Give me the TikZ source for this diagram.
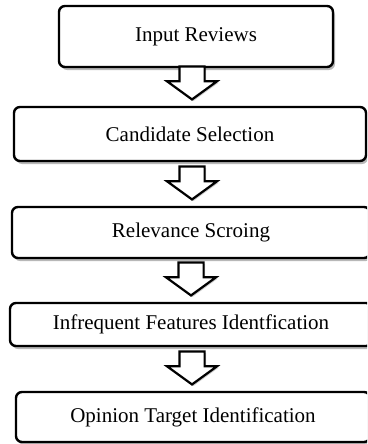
\documentclass[tikz,border=0pt]{standalone}
\usepackage{fontspec}
\setmainfont{Liberation Serif}
\usetikzlibrary{positioning,calc,shapes.arrows,shadows}
\tikzset{
  stepbox/.style={draw=black, line width=2.4pt, rounded corners=6pt, fill=white,
    inner sep=0pt, font=\fontsize{21}{25}\selectfont,
    drop shadow={shadow xshift=2pt, shadow yshift=-3pt, fill=black, opacity=0.28}},
  blockarr/.style={single arrow, draw=black, line width=2.2pt, fill=white,
    shape border rotate=270, inner xsep=11.5pt, inner ysep=0pt, minimum height=33pt,
    single arrow head extend=12.5pt, single arrow tip angle=108, anchor=tip,
    drop shadow={shadow xshift=1.5pt, shadow yshift=-1.5pt, fill=black, opacity=0.2}},
}
\begin{document}
\begin{tikzpicture}[x=1pt, y=-1pt]
\useasboundingbox (0,0) rectangle (367,444);
\clip (0,0) rectangle (367,444);
% process steps
\node[stepbox, minimum width=274pt, minimum height=61pt] (b1) at (196,36.5) {Input Reviews};
\node[stepbox, minimum width=352pt, minimum height=54pt] (b2) at (190,134) {Candidate Selection};
\node[stepbox, minimum width=358pt, minimum height=51pt] (b3) at (191,232.5) {Relevance Scroing};
\node[stepbox, minimum width=362pt, minimum height=43pt] (b4) at (191,324.5) {Infrequent Features Identfication};
\node[stepbox, minimum width=354pt, minimum height=50pt] (b5) at (193,417) {Opinion Target Identification};
% block arrows between steps
\node[blockarr] (a1) at ([xshift=2pt, yshift=5pt]b2.north) {};
\node[blockarr] (a2) at ([xshift=1pt, yshift=5pt]b3.north) {};
\node[blockarr] (a3) at ([xshift=0pt, yshift=5pt]b4.north) {};
\node[blockarr] (a4) at ([xshift=-1pt, yshift=5pt]b5.north) {};
\end{tikzpicture}
\end{document}
